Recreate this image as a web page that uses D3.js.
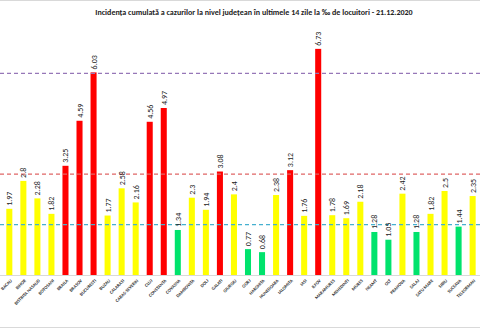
<!DOCTYPE html>
<html>
<head>
<meta charset="utf-8">
<script src="https://cdn.jsdelivr.net/npm/d3@7"></script>
<style>
  body { margin: 0; background: #fff; }
  svg { display: block; font-family: Carlito, "Liberation Sans", Arial, sans-serif; }
</style>
</head>
<body>
<div id="chart"></div>
<script>
// judete vizibile in imagine (imaginea originala e decupata stanga/dreapta)
const counties = ['BACAU', 'BIHOR', 'BISTRITA NASAUD', 'BOTOSANI', 'BRAILA', 'BRASOV', 'BUCURESTI',
  'BUZAU', 'CALARASI', 'CARAS-SEVERIN', 'CLUJ', 'CONSTANTA', 'COVASNA', 'DAMBOVITA', 'DOLJ',
  'GALATI', 'GIURGIU', 'GORJ', 'HARGHITA', 'HUNEDOARA', 'IALOMITA', 'IASI', 'ILFOV',
  'MARAMURES', 'MEHEDINTI', 'MURES', 'NEAMT', 'OLT', 'PRAHOVA', 'SALAJ', 'SATU MARE',
  'SIBIU', 'SUCEAVA', 'TELEORMAN']
const incidence = [1.97, 2.8, 2.28, 1.82, 3.25, 4.59, 6.03,
  1.77, 2.58, 2.16, 4.56, 4.97, 1.34, 2.3, 1.94,
  3.08, 2.4, 0.77, 0.68, 2.38, 3.12, 1.76, 6.73,
  1.78, 1.69, 2.18, 1.28, 1.05, 2.42, 1.28, 1.82,
  2.5, 1.44, 2.35]
// praguri (linii punctate)
const thresholds = [1.5, 3, 6]
const thresholdColors = ['#45b0d0', '#e06666', '#9677b8']

const title = 'Incidența cumulată a cazurilor la nivel județean în ultimele 14 zile la ‰ de locuitori - 21.12.2020'

const width = 480, height = 328
const margin = { top: 20, right: 0, bottom: 53, left: 0 }

const svg = d3.select('#chart')
  .append('svg')
  .attr('width', width)
  .attr('height', height)

// chenar subtire sus/jos
svg.append('line').attr('x1', 0).attr('x2', width).attr('y1', 0.5).attr('y2', 0.5)
  .attr('stroke', '#d9d9d9')
svg.append('line').attr('x1', 0).attr('x2', width).attr('y1', height - 0.5).attr('y2', height - 0.5)
  .attr('stroke', '#d9d9d9')

const x = d3.scaleBand()
  .domain(counties)
  .range([2.3, 2.3 + 14.04 * counties.length])
  .paddingInner(0.57)
  .paddingOuter(0.285)

const y = d3.scaleLinear()
  .domain([0, 7.5])
  .range([height - margin.bottom, height - margin.bottom - 33.6 * 7.5])

function colorFor(v) {
  if (v < 1.5) return '#00e36c'
  if (v <= 3) return '#ffff00'
  return '#ff0000'
}

svg.append('text')
  .attr('x', 254)
  .attr('y', 15)
  .attr('text-anchor', 'middle')
  .style('font-size', '8px')
  .style('font-weight', 'bold')
  .attr('fill', '#222')
  .text(title)

// axa x
svg.append('line')
  .attr('x1', 0).attr('x2', width)
  .attr('y1', y(0) + 0.5).attr('y2', y(0) + 0.5)
  .attr('stroke', '#d9d9d9')

const data = counties.map((c, i) => ({ name: c, value: incidence[i] }))

svg.selectAll('rect.bar')
  .data(data)
  .join('rect')
  .attr('class', 'bar')
  .attr('x', d => x(d.name))
  .attr('width', x.bandwidth())
  .attr('y', d => y(d.value))
  .attr('height', d => y(0) - y(d.value))
  .attr('fill', d => colorFor(d.value))

// liniile de prag
svg.selectAll('line.thr')
  .data(thresholds)
  .join('line')
  .attr('class', 'thr')
  .attr('x1', 0).attr('x2', width)
  .attr('y1', d => y(d)).attr('y2', d => y(d))
  .attr('stroke', (d, i) => thresholdColors[i])
  .attr('stroke-width', 1.2)
  .attr('stroke-dasharray', '4,3')

// valori deasupra barelor
svg.selectAll('text.val')
  .data(data)
  .join('text')
  .attr('class', 'val')
  .attr('transform', d => `translate(${x(d.name) + x.bandwidth() / 2 + 3}, ${y(d.value) - 3}) rotate(-90)`)
  .style('font-size', '8px')
  .attr('fill', '#222')
  .text(d => d.value)

// etichete judete
svg.selectAll('text.cat')
  .data(data)
  .join('text')
  .attr('class', 'cat')
  .attr('transform', d => `translate(${x(d.name) + x.bandwidth() / 2 + 3}, ${y(0) + 6}) rotate(-45)`)
  .attr('text-anchor', 'end')
  .style('font-size', '4.6px')
  .style('font-weight', 'bold')
  .attr('fill', '#333')
  .text(d => d.name)
</script>
</body>
</html>
